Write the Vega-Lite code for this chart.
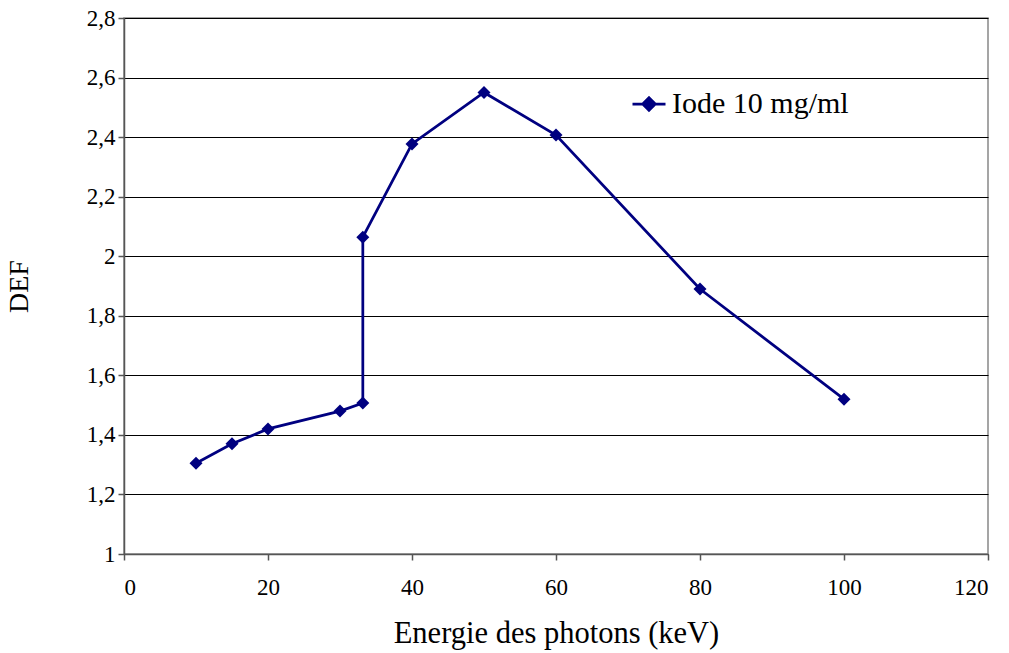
{
  "$schema": "https://vega.github.io/schema/vega-lite/v6.json",
  "width": 864,
  "height": 536,
  "autosize": {"type": "none"},
  "padding": {"left": 124, "top": 18, "right": 21, "bottom": 99},
  "background": "white",
  "config": {
    "font": "Liberation Serif",
    "view": {"stroke": "#888888", "strokeWidth": 1.5}
  },
  "data": {
    "values": [
      {"energy": 10, "def": 1.305, "series": "Iode 10 mg/ml"},
      {"energy": 15, "def": 1.37, "series": "Iode 10 mg/ml"},
      {"energy": 20, "def": 1.42, "series": "Iode 10 mg/ml"},
      {"energy": 30, "def": 1.48, "series": "Iode 10 mg/ml"},
      {"energy": 33.17, "def": 1.507, "series": "Iode 10 mg/ml"},
      {"energy": 33.17, "def": 2.064, "series": "Iode 10 mg/ml"},
      {"energy": 40, "def": 2.377, "series": "Iode 10 mg/ml"},
      {"energy": 50, "def": 2.55, "series": "Iode 10 mg/ml"},
      {"energy": 60, "def": 2.407, "series": "Iode 10 mg/ml"},
      {"energy": 80, "def": 1.89, "series": "Iode 10 mg/ml"},
      {"energy": 100, "def": 1.52, "series": "Iode 10 mg/ml"}
    ]
  },
  "mark": {
    "type": "line",
    "strokeWidth": 2.75,
    "point": {"shape": "diamond", "size": 170, "filled": true, "color": "#000080", "opacity": 1}
  },
  "encoding": {
    "x": {
      "field": "energy",
      "type": "quantitative",
      "sort": null,
      "scale": {"domain": [0, 120], "nice": false, "zero": false},
      "axis": {
        "title": "Energie des photons (keV)",
        "values": [0, 20, 40, 60, 80, 100, 120],
        "grid": false,
        "domainColor": "#555555",
        "domainWidth": 1.5,
        "tickColor": "#555555",
        "tickWidth": 1.5,
        "tickSize": 6,
        "labelFontSize": 23,
        "labelColor": "black",
        "labelPadding": 16,
        "labelFont": "Liberation Serif",
        "titleFont": "Liberation Serif",
        "titleFontSize": 30.5,
        "titleFontWeight": "normal",
        "titleColor": "black",
        "titlePadding": 19
      }
    },
    "y": {
      "field": "def",
      "type": "quantitative",
      "scale": {"domain": [1, 2.8], "nice": false, "zero": false},
      "axis": {
        "title": "DEF",
        "values": [1, 1.2, 1.4, 1.6, 1.8, 2, 2.2, 2.4, 2.6, 2.8],
        "labelExpr": "replace(format(datum.value, '.1~f'), '.', ',')",
        "grid": true,
        "gridColor": "#000000",
        "gridWidth": 1,
        "domainColor": "#555555",
        "domainWidth": 1.5,
        "tickColor": "#555555",
        "tickWidth": 1.5,
        "tickSize": 6,
        "labelFontSize": 23,
        "labelColor": "black",
        "labelPadding": 3,
        "labelFont": "Liberation Serif",
        "titleFont": "Liberation Serif",
        "titleFontSize": 28,
        "titleFontWeight": "normal",
        "titleColor": "black",
        "titlePadding": 53
      }
    },
    "color": {
      "field": "series",
      "type": "nominal",
      "scale": {"range": ["#000080"]},
      "legend": {
        "title": null,
        "orient": "none",
        "legendX": 507,
        "legendY": 68,
        "padding": 0,
        "symbolType": "M-1,0H1M0,-0.38L0.38,0L0,0.38L-0.38,0Z",
        "symbolSize": 1089,
        "symbolStrokeWidth": 2.75,
        "symbolFillColor": "#000080",
        "symbolStrokeColor": "#000080",
        "labelFontSize": 30,
        "labelFont": "Liberation Serif",
        "labelColor": "black",
        "labelOffset": 5,
        "labelLimit": 400
      }
    }
  }
}
